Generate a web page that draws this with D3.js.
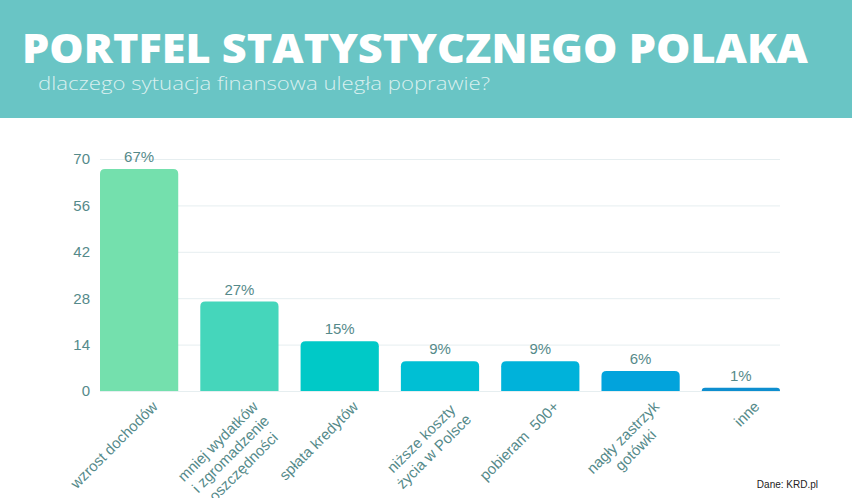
<!DOCTYPE html>
<html>
<head>
<meta charset="utf-8">
<script src="https://cdn.jsdelivr.net/npm/d3@7"></script>
<style>
  body { margin: 0; background: #fff; }
  svg { display: block; }
</style>
</head>
<body>
<svg id="chart" width="852" height="498"></svg>
<script>
// data
var categories = [
    ["wzrost dochodów"],
    ["mniej wydatków", "i zgromadzenie", "oszczędności"],
    ["spłata kredytów"],
    ["niższe koszty", "życia w Polsce"],
    ["pobieram  500+"],
    ["nagły zastrzyk", "gotówki"],
    ["inne"]
];
var values = [67, 27, 15, 9, 9, 6, 1];
var yTicks = [0, 14, 28, 42, 56, 70];
var barColors = ["#74e0ad", "#45d6bb", "#00c9c7", "#00bfd4", "#00b2da", "#02a3dc", "#0e8ecf"];

var title = "PORTFEL STATYSTYCZNEGO POLAKA",
    subtitle = "dlaczego sytuacja finansowa uległa poprawie?",
    source = "Dane: KRD.pl";

var W = 852, H = 498;
var svg = d3.select("#chart");
var textColor = "#558a8a";

// header band
svg.append("rect")
    .attr("width", W).attr("height", 118)
    .attr("fill", "#69c5c5");

svg.append("text")
    .attr("x", 22).attr("y", 63)
    .attr("textLength", 786)
    .attr("lengthAdjust", "spacingAndGlyphs")
    .style("font", "800 41px 'Open Sans', sans-serif")
    .attr("fill", "#fff")
    .text(title);

svg.append("text")
    .attr("x", 38).attr("y", 90)
    .attr("textLength", 452)
    .attr("lengthAdjust", "spacingAndGlyphs")
    .style("font", "300 19px 'Open Sans', sans-serif")
    .attr("fill", "#fff").attr("fill-opacity", 0.75)
    .text(subtitle);

// scales
var x = d3.scaleBand()
    .domain(d3.range(values.length))
    .range([100, 780])
    .paddingInner(0.22)
    .paddingOuter(0);

var y = d3.scaleLinear()
    .domain([0, 70])
    .range([391, 159]);

// grid
svg.append("g").selectAll("line")
    .data(yTicks)
  .enter().append("line")
    .attr("x1", 100).attr("x2", 780)
    .attr("y1", d => y(d) + 0.5).attr("y2", d => y(d) + 0.5)
    .attr("stroke", "#e6eef0");

// y axis labels
var yAxis = svg.append("g")
    .attr("transform", "translate(90,0)")
    .call(d3.axisLeft(y).tickValues(yTicks).tickSize(0).tickPadding(0));
yAxis.select(".domain").remove();
yAxis.selectAll("text")
    .attr("fill", textColor)
    .style("font", "15px 'Liberation Sans', Arial, sans-serif");

// bars with rounded tops
function barPath(x0, w, top, bottom, r) {
    r = Math.min(r, bottom - top, w / 2);
    return "M" + x0 + "," + bottom +
        "V" + (top + r) +
        "Q" + x0 + "," + top + " " + (x0 + r) + "," + top +
        "H" + (x0 + w - r) +
        "Q" + (x0 + w) + "," + top + " " + (x0 + w) + "," + (top + r) +
        "V" + bottom + "Z";
}

svg.append("g").selectAll("path")
    .data(values)
  .enter().append("path")
    .attr("d", (d, i) => barPath(x(i), x.bandwidth(), y(d), y(0), 5))
    .attr("fill", (d, i) => barColors[i]);

// value labels
svg.append("g").selectAll("text")
    .data(values)
  .enter().append("text")
    .attr("x", (d, i) => x(i) + x.bandwidth() / 2)
    .attr("y", d => y(d) - 7)
    .attr("text-anchor", "middle")
    .attr("fill", textColor)
    .style("font", "15px 'Liberation Sans', Arial, sans-serif")
    .text(d => d + "%");

// category labels, rotated, lines centred on each other
var lab = svg.append("g").selectAll("g")
    .data(categories)
  .enter().append("g")
    .attr("transform", (d, i) =>
        "translate(" + (x(i) + x.bandwidth() / 2 + 16) + ",404) rotate(-45)");

lab.each(function(lines) {
    var g = d3.select(this);
    var t = g.selectAll("text")
        .data(lines)
      .enter().append("text")
        .attr("y", (d, j) => 5 + j * 18)
        .attr("text-anchor", "middle")
        .attr("fill", textColor)
        .style("font", "15px 'Liberation Sans', Arial, sans-serif")
        .style("white-space", "pre")
        .text(d => d);
    var maxW = d3.max(t.nodes(), n => n.getComputedTextLength());
    t.attr("x", -maxW / 2);
});

// source
svg.append("text")
    .attr("x", 818).attr("y", 488)
    .attr("text-anchor", "end")
    .attr("fill", "#222")
    .style("font", "10px 'Liberation Sans', Arial, sans-serif")
    .text(source);
</script>
</body>
</html>
